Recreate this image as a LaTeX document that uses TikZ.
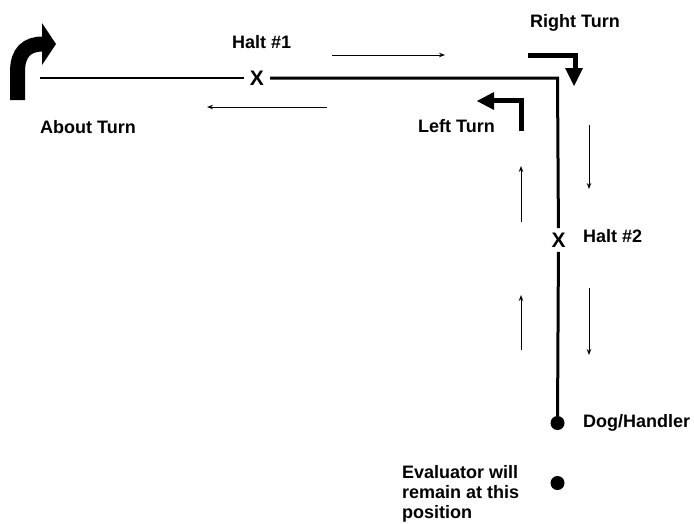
\documentclass[tikz,border=0pt]{standalone}
\usepackage{fontspec}
\setmainfont{Liberation Sans}
\usetikzlibrary{arrows.meta}
\begin{document}
\begin{tikzpicture}[x=1pt,y=-1pt,
  lbl/.style={font=\fontsize{18}{20}\selectfont\bfseries, inner sep=0pt, anchor=base west},
  xmark/.style={font=\fontsize{21}{21}\selectfont\bfseries, inner xsep=6pt, inner ysep=4.5pt},
  thinarrow/.style={line width=1pt, -{Stealth[length=6pt,width=4.5pt]}},
  pathline/.style={line width=3pt},
  dot/.style={circle, fill=black, minimum size=14pt, inner sep=0pt},
  turn/.style={line width=5pt, line cap=butt, line join=miter}]
\useasboundingbox (0,0) rectangle (694,523);
% path
\coordinate (start) at (40,78);
\coordinate (corner) at (557.5,78);
\node[xmark] (h1) at (257,78) {X};
\node[xmark] (h2) at (558.5,240) {X};
\node[dot] (dog) at (557.5,423) {};
\node[dot] (eval) at (557.5,483) {};
\draw[line width=2pt] (start) -- (h1);
\draw[pathline] (h1) -- (corner) -- (h2);
\draw[pathline] (h2) -- (dog);
% labels
\node[lbl] (t1) at (232,48) {Halt \#1};
\node[lbl] (t2) at (40,133) {About Turn};
\node[lbl] (t3) at (530,27) {Right Turn};
\node[lbl] (t4) at (418,132) {Left Turn};
\node[lbl] (t5) at (583,242) {Halt \#2};
\node[lbl] (t6) at (583,427) {Dog/Handler};
\node[lbl, anchor=north west, align=left] (t7) at (402,465) {Evaluator will\\remain at this\\position};
% direction arrows
\coordinate (a1s) at (332,55); \coordinate (a1e) at (445,55);
\coordinate (a2s) at (327,107); \coordinate (a2e) at (207,107);
\coordinate (a3s) at (589,125); \coordinate (a3e) at (589,189);
\coordinate (a4s) at (589,288); \coordinate (a4e) at (589,355);
\coordinate (a5s) at (521,222); \coordinate (a5e) at (521,166);
\coordinate (a6s) at (521,350); \coordinate (a6e) at (521,295);
\draw[thinarrow] (a1s) -- (a1e);
\draw[thinarrow] (a2s) -- (a2e);
\draw[thinarrow] (a3s) -- (a3e);
\draw[thinarrow] (a4s) -- (a4e);
\draw[thinarrow] (a5s) -- (a5e);
\draw[thinarrow] (a6s) -- (a6e);
% About Turn arrow
\draw[line width=15pt, line cap=butt] (17.5,100) -- (17.5,72) .. controls (17.5,52) and (27,44) .. (43,44);
\fill (42,23) -- (56,44) -- (42,65) -- cycle;
% Right Turn arrow
\draw[turn] (528,55) -- (575,55) -- (575,69);
\fill (565,68) -- (583,68) -- (574,86) -- cycle;
% Left Turn arrow
\draw[turn] (521,131) -- (521,100) -- (493,100);
\fill (494,92) -- (494,110) -- (477,101) -- cycle;
\end{tikzpicture}
\end{document}
